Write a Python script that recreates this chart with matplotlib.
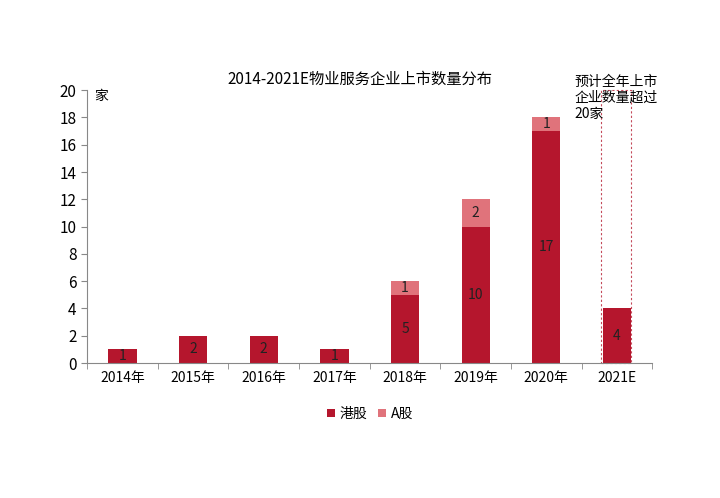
import matplotlib
matplotlib.use("Agg")
import matplotlib.pyplot as plt
from matplotlib.patches import Rectangle
import numpy as np

plt.rcParams['font.family'] = ['Noto Sans CJK SC', 'DejaVu Sans']

categories = ["2014年", "2015年", "2016年", "2017年", "2018年", "2019年", "2020年", "2021E"]
hk = [1, 2, 2, 1, 5, 10, 17, 4]
a_share = [0, 0, 0, 0, 1, 2, 1, 0]
ymax = 20

c_hk = "#B5162D"
c_a = "#E0737B"

fig = plt.figure(figsize=(7.2, 4.98), dpi=100)
ax = fig.add_axes([0.121, 0.271, 0.785, 0.548])
x = np.arange(len(categories))
w = 0.4
ax.bar(x, hk, width=w, color=c_hk, label="港股")
ax.bar(x, a_share, width=w, bottom=hk, color=c_a, label="A股")

for xi, h, a in zip(x, hk, a_share):
    if h > 0:
        ax.text(xi, h / 2, str(h), ha="center", va="center", fontsize=10, color="#222222")
    if a > 0:
        ax.text(xi, h + a / 2, str(a), ha="center", va="center", fontsize=10, color="#222222")

# dashed box for 2021E expectation
i = len(categories) - 1
ax.add_patch(Rectangle((x[i] - 0.23, 0), 0.43, ymax, fill=False, ls=(0, (2, 2)),
                       lw=0.8, edgecolor="#C4495A", clip_on=False))

ax.set_xlim(-0.5, len(categories) - 0.5)
ax.set_ylim(0, ymax)
ax.set_yticks(range(0, 21, 2))
ax.set_xticks(x)
ax.set_xticklabels(categories, fontsize=10)
ax.tick_params(axis="x", length=0, pad=6)
ax.set_xticks(np.arange(-0.5, len(categories), 1), minor=True)
ax.tick_params(axis="x", which="minor", length=4, direction="out", color="#888888")
ax.tick_params(axis="y", length=4, direction="out", color="#888888", labelsize=11)
for s in ["top", "right"]:
    ax.spines[s].set_visible(False)
ax.spines["left"].set_color("#888888")
ax.spines["bottom"].set_color("#888888")

fig.text(0.5, 0.823, "2014-2021E物业服务企业上市数量分布", ha="center", va="bottom", fontsize=11)
fig.text(0.131, 0.808, "家", ha="left", va="center", fontsize=10)
fig.text(0.798, 0.757, "预计全年上市\n企业数量超过\n20家", ha="left", va="bottom", fontsize=10, linespacing=1.2)

ax.legend(loc="upper center", bbox_to_anchor=(0.5, -0.115), ncol=2, frameon=False,
          fontsize=10, handlelength=0.6, handleheight=0.6, handletextpad=0.3, columnspacing=0.8)

fig.savefig("out.png", dpi=100)
